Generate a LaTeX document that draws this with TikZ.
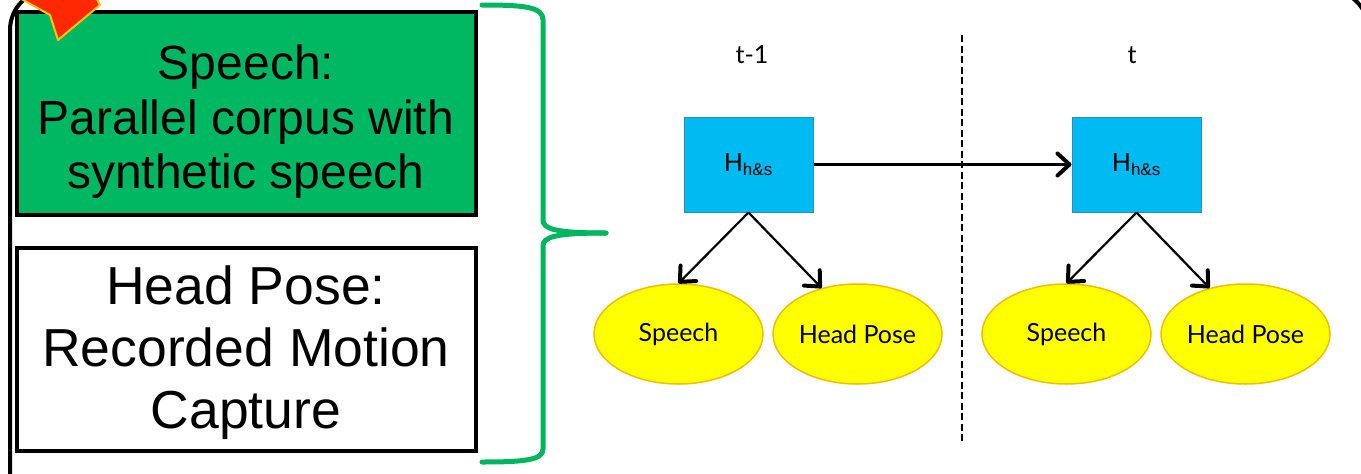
\documentclass[tikz,border=0pt]{standalone}
\usepackage{fontspec}
\setmainfont{Liberation Sans}
\newfontfamily\gill{Lato}
\usetikzlibrary{shapes.geometric,arrows.meta}
\definecolor{boxgreen}{RGB}{0,184,98}
\definecolor{bracegreen}{RGB}{0,183,96}
\definecolor{hblue}{RGB}{0,187,242}
\definecolor{hblueedge}{RGB}{40,140,200}
\definecolor{ellfill}{RGB}{255,255,0}
\definecolor{elledge}{RGB}{240,190,0}
\definecolor{flagred}{RGB}{255,40,0}
\definecolor{flagedge}{RGB}{255,195,0}
\tikzset{
  bigbox/.style={draw=black, line width=4pt, minimum width=459pt, minimum height=203pt,
    align=center, inner sep=0pt},
  hbox/.style={draw=hblueedge, fill=hblue, line width=1pt, minimum width=129pt, minimum height=95pt,
    inner sep=0pt, font=\fontsize{26}{30}\selectfont},
  obs/.style={ellipse, draw=elledge, fill=ellfill, line width=1.5pt, minimum width=169pt,
    minimum height=100pt, inner sep=0pt, font=\gill\fontsize{25}{30}\selectfont},
  tlabel/.style={font=\gill\fontsize{25}{30}\selectfont, inner sep=0pt},
  arr/.style={line width=2.2pt, -{Straight Barb[length=12pt,width=22pt,line width=4pt 0 1,round]}},
  brace/.style={draw=bracegreen, line width=5pt, line cap=round, line join=round},
}
\begin{document}
\begin{tikzpicture}[x=1pt,y=-1pt]
\useasboundingbox (0,0) rectangle (1361,474);
\clip (0,0) rectangle (1361,474);
% outer border of slide frame
\draw[line width=4pt, rounded corners=40pt] (10,-10) rectangle (1368.5,520);
% left boxes
\node[bigbox, fill=boxgreen, font=\fontsize{48}{54.5}\selectfont] (speechbox) at (246,113.5)
  {\rule{0pt}{51pt}Speech:\\Parallel corpus with\\synthetic speech};
\node[bigbox, fill=white, font=\fontsize{53.5}{62}\selectfont] (posebox) at (246,349)
  {\rule{0pt}{46pt}Head Pose:\\Recorded Motion\\Capture};
% brace
\coordinate (btop) at (482,5);
\coordinate (btip) at (606,233);
\coordinate (bbot) at (482,462);
\draw[brace] (btop) .. controls (525,5) and (543,7) .. (543,20) -- (543,220)
  .. controls (543,229) and (555,233) .. (btip);
\draw[brace] (btip) .. controls (555,233) and (543,237) .. (543,246) -- (543,449)
  .. controls (543,460) and (525,462) .. (bbot);
% time labels and separator
\node[tlabel] (tm1) at (752,55) {t-1};
\node[tlabel] (tt) at (1132,55) {t};
\coordinate (dtop) at (962,35);
\coordinate (dbot) at (962,443);
\draw[line width=2pt, dash pattern=on 7pt off 3.5pt] (dtop) -- (dbot);
% hidden states
\node[hbox] (h1) at (748.5,164.5) {H\textsubscript{\fontsize{17}{20}\selectfont h\&s}};
\node[hbox] (h2) at (1136.5,164.5) {H\textsubscript{\fontsize{17}{20}\selectfont h\&s}};
% observations
\node[obs] (sp1) at (678.5,334) {Speech};
\node[obs] (hp1) at (857.5,334) {Head Pose};
\node[obs] (sp2) at (1066.5,334) {Speech};
\node[obs] (hp2) at (1245.5,334) {Head Pose};
% arrows
\draw[arr] (h1.east) -- (h2.west);
\draw[arr] (h1.south) -- (sp1.north);
\draw[arr] (h1.south) -- (hp1.128);
\draw[arr] (h2.south) -- (sp2.north);
\draw[arr] (h2.south) -- (hp2.128);
% red pointer shape at top-left
\draw[fill=flagred, draw=flagedge, line width=2pt, line join=round]
  (16,-4) -- (50,15) -- (58,40) -- (100,5) -- (95,-4) -- cycle;
\end{tikzpicture}
\end{document}
